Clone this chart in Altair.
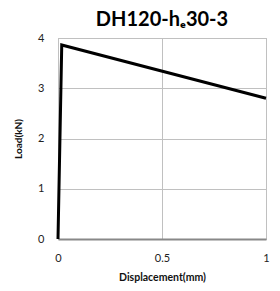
import altair as alt
import pandas as pd

disp = [0.0, 0.018, 1.0]
load = [0.0, 3.86, 2.80]
x_ticks = [0, 0.5, 1]
y_ticks = [0, 1, 2, 3, 4]
title_text = "DH120-h\u209130-3"

df = pd.DataFrame({"disp": disp, "load": load})

FONT = "Lato"

chart = alt.Chart(df).mark_line(color="black", strokeWidth=3).encode(
    x=alt.X("disp:Q", scale=alt.Scale(domain=[0, 1], nice=False),
            axis=alt.Axis(values=x_ticks, title="Displacement(mm)", format="~g",
                          grid=True, gridColor="#c0c0c0", domainColor="#888888",
                          domainWidth=2, ticks=False, labelPadding=13, labelFlush=False,
                          labelFontSize=11, labelColor="#222222", labelFont=FONT,
                          titleFont=FONT, titleFontSize=10.5, titleFontWeight="bold",
                          titlePadding=9, titleColor="#111111")),
    y=alt.Y("load:Q", scale=alt.Scale(domain=[0, 4], nice=False),
            axis=alt.Axis(values=y_ticks, title="Load(kN)", grid=True,
                          gridColor="#c0c0c0", domain=False, ticks=False,
                          labelPadding=14, labelFontSize=11, labelColor="#222222",
                          labelFont=FONT, titleFont=FONT, titleFontSize=10,
                          titleFontWeight="bold", titlePadding=14, titleColor="#111111")),
).properties(
    title=alt.TitleParams(text=title_text, font=FONT, fontSize=20, fontWeight="bold",
                          color="black", anchor="middle", offset=2),
    width=264, height=275,
    autosize=alt.AutoSizeParams(type="fit", contains="padding"),
    padding={"left": 5, "top": 2, "right": 0, "bottom": 0},
).configure_view(stroke="#b0b0b0", strokeWidth=1)

chart.save("out.html", embed_options={"renderer": "svg", "actions": False})
